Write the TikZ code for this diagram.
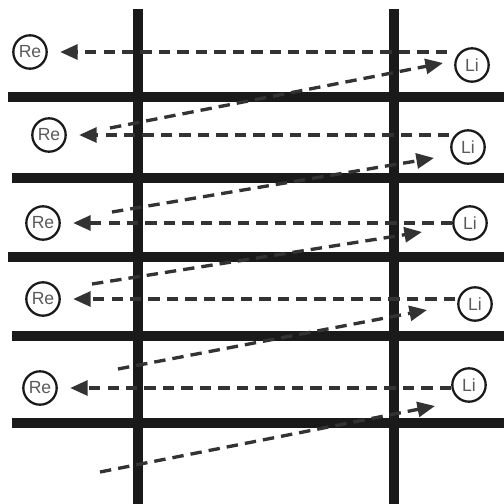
\documentclass[tikz,border=0pt]{standalone}
\usepackage{fontspec}
\setsansfont{Liberation Sans}
\usetikzlibrary{arrows.meta}
\definecolor{barBlack}{HTML}{1A1A1A}
\definecolor{dashGray}{HTML}{333333}
\definecolor{ionGray}{HTML}{5A5A5A}

\begin{document}
\begin{tikzpicture}[x=0.02cm, y=-0.02cm,
        bar/.style={barBlack, line width=5.4pt},
        ion/.style={circle, draw=barBlack, line width=1.3pt, minimum size=19pt, inner sep=0pt,
            font=\sffamily\fontsize{10}{10}\selectfont, text=ionGray},
        hop/.style={dashGray, line width=1.9pt, dash pattern=on 6.5pt off 4pt,
            -{Triangle[length=10pt, width=8.5pt]}}]
    \useasboundingbox (0,0) rectangle (504,504);

    % walls
    \foreach \x in {138, 394}
        \draw[bar] (\x,9) -- (\x,504);
    \foreach \y/\l in {97/8, 178/12, 257/8, 336/12, 423/12}
        \draw[bar] (\l,\y) -- (504,\y);

    % ions
    \node[ion] (re1) at (30,52) {Re};
    \node[ion] (re2) at (49,135) {Re};
    \node[ion] (re3) at (43,223) {Re};
    \node[ion] (re4) at (43,299) {Re};
    \node[ion] (re5) at (40,388) {Re};
    \node[ion] (li1) at (472,65) {Li};
    \node[ion] (li2) at (468,147) {Li};
    \node[ion] (li3) at (470,223) {Li};
    \node[ion] (li4) at (475,304) {Li};
    \node[ion] (li5) at (469,385) {Li};

    % free ends of the hops
    \coordinate (h1) at (447,52);
    \coordinate (h2) at (449,135);
    \coordinate (h3) at (452,223);
    \coordinate (h4) at (455,299);
    \coordinate (h5) at (451,388);
    \coordinate (s1) at (110,128);
    \coordinate (s2) at (112,212);
    \coordinate (s3) at (92,284);
    \coordinate (s4) at (118,369);
    \coordinate (s5) at (100,472);
    \coordinate (t1) at (443,63);
    \coordinate (t2) at (434,158);
    \coordinate (t3) at (422,232);
    \coordinate (t4) at (427,310);
    \coordinate (t5) at (435,406);

    \path[hop]
        (h1) edge[shorten >=7pt] (re1)
        (h2) edge[shorten >=7pt] (re2)
        (h3) edge[shorten >=7pt] (re3)
        (h4) edge[shorten >=7pt] (re4)
        (h5) edge[shorten >=7pt] (re5)
        (s1) edge (t1)
        (s2) edge (t2)
        (s3) edge (t3)
        (s4) edge (t4)
        (s5) edge (t5)
    ;
\end{tikzpicture}
\end{document}
